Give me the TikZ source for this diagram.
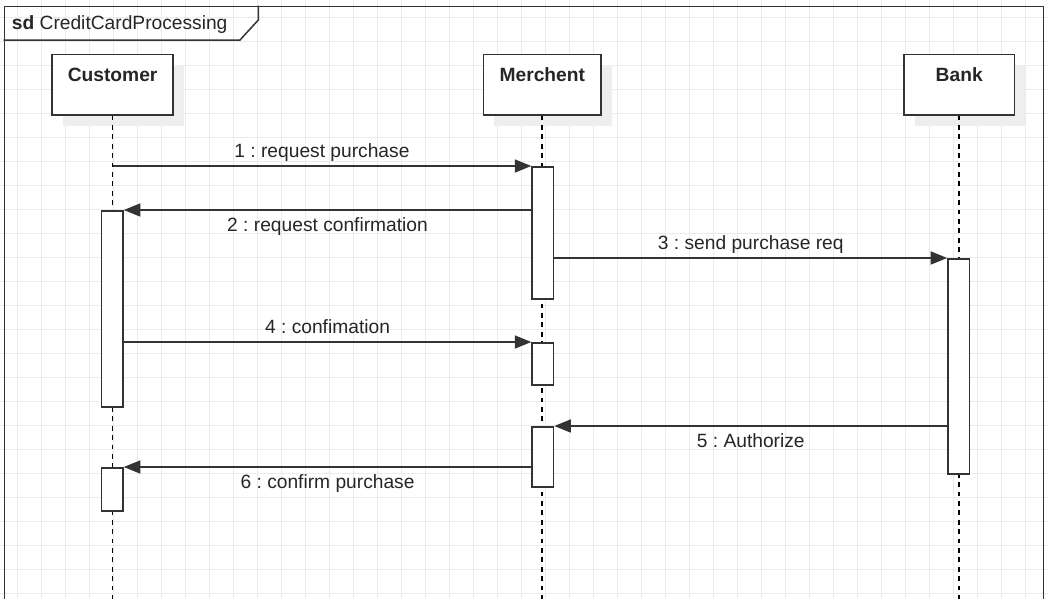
\documentclass[tikz,border=0pt]{standalone}
\usepackage{fontspec}
\setmainfont{Liberation Sans}
\usetikzlibrary{arrows.meta,shadows}
\definecolor{lc}{HTML}{333333}
\definecolor{gridc}{HTML}{EBEBEB}
\definecolor{shc}{HTML}{EEEEEE}
\frenchspacing
\tikzset{
  gridline/.style={draw=gridc, line width=1.3pt},
  sdframe/.style={draw=lc, line width=1.5pt, inner sep=0pt, anchor=north west},
  participant/.style={draw=lc, fill=white, line width=1.5pt, inner xsep=0pt, inner ysep=0pt,
    anchor=north, text height=27.5pt, text depth=33pt, text=black!85,
    font=\fontsize{19.2}{23}\selectfont\bfseries,
    general shadow={fill=shc, draw=none, shadow xshift=10.5pt, shadow yshift=-11pt}},
  lifeline/.style={draw=black, line width=1.7pt, dash pattern=on 4.8pt off 4.6pt},
  act/.style={draw=lc, fill=white, line width=1.5pt, inner sep=0pt, minimum width=21.5pt, anchor=north},
  msg/.style={draw=lc, line width=1.5pt, -{Triangle[length=16.5pt,width=13pt]}},
  msglbl/.style={font=\fontsize{19.2}{23}\selectfont, text=black!85, inner sep=0pt, anchor=base},
}
\begin{document}
\begin{tikzpicture}[x=1pt,y=-1pt]
\useasboundingbox (0,0) rectangle (1048,598);
\clip (0,0) rectangle (1048,598);
\fill[white] (0,0) rectangle (1048,598);
% grid
\foreach \i in {0,...,43} \draw[gridline] ({17.3+24*\i},0) -- ({17.3+24*\i},598);
\foreach \j in {0,...,24} \draw[gridline] (0,{17.3+24*\j}) -- (1048,{17.3+24*\j});
% frame
\node[sdframe, minimum width=1039.2pt, minimum height=620pt] (frame) at (3.5,5.5) {};
\draw[draw=lc, line width=1.5pt] (frame.north west) ++(254.8,0) coordinate (tabA)
  -- ++(0,14.5) coordinate (tabB) -- (240,40) coordinate (tabC) -- (frame.west |- tabC);
\node[anchor=base west, inner sep=0pt, text=black!85, font=\fontsize{19.2}{23}\selectfont] (sdlbl) at (11.7,29.5) {\textbf{sd} CreditCardProcessing};
% participants
\node[participant, minimum width=121pt] (cust) at (112.6,53.5) {Customer};
\node[participant, minimum width=117.7pt] (merch) at (542.3,53.5) {Merchent};
\node[participant, minimum width=110.3pt] (bank) at (959.2,53.5) {Bank};
% lifelines
\coordinate (custEnd) at (112.6,610);
\coordinate (merchEnd) at (542.3,610);
\coordinate (bankEnd) at (959.2,610);
\draw[lifeline] (cust.south) -- (custEnd);
\draw[lifeline] (merch.south) -- (merchEnd);
\draw[lifeline] (bank.south) -- (bankEnd);
% activations
\node[act, minimum height=196pt] (cA1) at (112.3,210) {};
\node[act, minimum height=43pt] (cA2) at (112.3,467) {};
\node[act, minimum height=132pt] (mA1) at (542.8,166) {};
\node[act, minimum height=42pt] (mA2) at (542.8,342) {};
\node[act, minimum height=60pt] (mA3) at (542.8,426) {};
\node[act, minimum height=215pt] (bA1) at (958.7,258) {};
% messages
\draw[msg] (cust |- mA1.north) -- (mA1.north west)
  node[msglbl, pos=.5, yshift=8.3pt] (l1) {1 : request purchase};
\draw[msg] (mA1.west |- cA1.north) -- (cA1.north east)
  node[msglbl, pos=.5, yshift=-21.5pt] (l2) {2 : request confirmation};
\draw[msg] (mA1.east |- bA1.north) -- (bA1.north west)
  node[msglbl, pos=.5, yshift=8.3pt] (l3) {3 : send purchase req};
\draw[msg] (cA1.east |- mA2.north) -- (mA2.north west)
  node[msglbl, pos=.5, yshift=8.3pt] (l4) {4 : confimation};
\draw[msg] (bA1.west |- mA3.north) -- (mA3.north east)
  node[msglbl, pos=.5, yshift=-21.5pt] (l5) {5 : Authorize};
\draw[msg] (mA3.west |- cA2.north) -- (cA2.north east)
  node[msglbl, pos=.5, yshift=-21.5pt] (l6) {6 : confirm purchase};
\end{tikzpicture}
\end{document}
